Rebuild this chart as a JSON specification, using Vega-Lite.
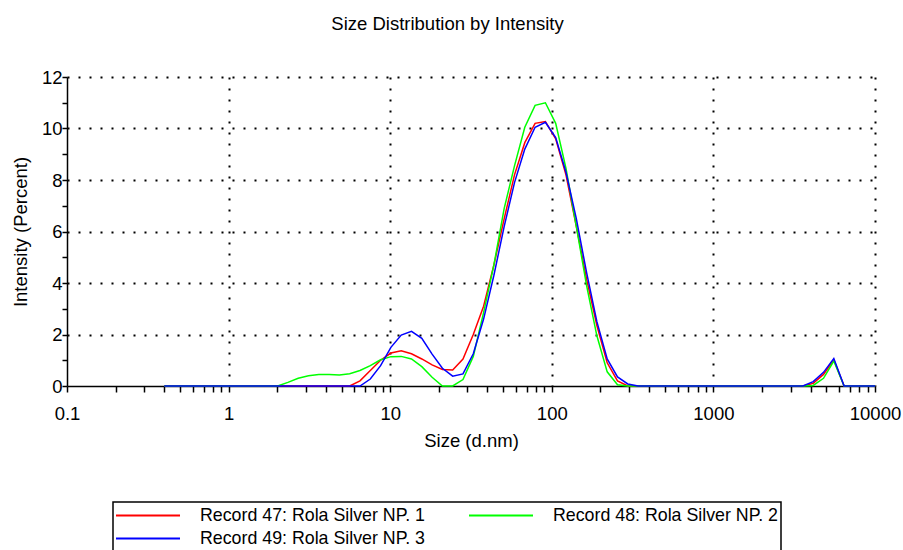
{
  "$schema": "https://vega.github.io/schema/vega-lite/v6.json",
  "autosize": {"type": "none"},
  "padding": {"left": 67, "top": 77, "right": 28, "bottom": 164},
  "width": 808,
  "height": 309,
  "background": "white",
  "title": {
    "text": "Size Distribution by Intensity",
    "anchor": "middle",
    "dx": -23.5,
    "offset": 20,
    "baseline": "alphabetic",
    "font": "Liberation Sans",
    "fontSize": 18.5,
    "fontWeight": "normal",
    "color": "black"
  },
  "data": {
    "values": [
      {"size": 0.4, "record": "Record 47: Rola Silver NP. 1", "intensity": 0},
      {"size": 0.4632, "record": "Record 47: Rola Silver NP. 1", "intensity": 0},
      {"size": 0.5365, "record": "Record 47: Rola Silver NP. 1", "intensity": 0},
      {"size": 0.6213, "record": "Record 47: Rola Silver NP. 1", "intensity": 0},
      {"size": 0.7195, "record": "Record 47: Rola Silver NP. 1", "intensity": 0},
      {"size": 0.8332, "record": "Record 47: Rola Silver NP. 1", "intensity": 0},
      {"size": 0.9649, "record": "Record 47: Rola Silver NP. 1", "intensity": 0},
      {"size": 1.117, "record": "Record 47: Rola Silver NP. 1", "intensity": 0},
      {"size": 1.294, "record": "Record 47: Rola Silver NP. 1", "intensity": 0},
      {"size": 1.499, "record": "Record 47: Rola Silver NP. 1", "intensity": 0},
      {"size": 1.736, "record": "Record 47: Rola Silver NP. 1", "intensity": 0},
      {"size": 2.01, "record": "Record 47: Rola Silver NP. 1", "intensity": 0},
      {"size": 2.328, "record": "Record 47: Rola Silver NP. 1", "intensity": 0},
      {"size": 2.696, "record": "Record 47: Rola Silver NP. 1", "intensity": 0},
      {"size": 3.122, "record": "Record 47: Rola Silver NP. 1", "intensity": 0},
      {"size": 3.615, "record": "Record 47: Rola Silver NP. 1", "intensity": 0},
      {"size": 4.187, "record": "Record 47: Rola Silver NP. 1", "intensity": 0},
      {"size": 4.849, "record": "Record 47: Rola Silver NP. 1", "intensity": 0},
      {"size": 5.615, "record": "Record 47: Rola Silver NP. 1", "intensity": 0},
      {"size": 6.503, "record": "Record 47: Rola Silver NP. 1", "intensity": 0.2},
      {"size": 7.531, "record": "Record 47: Rola Silver NP. 1", "intensity": 0.6},
      {"size": 8.721, "record": "Record 47: Rola Silver NP. 1", "intensity": 1.0},
      {"size": 10.1, "record": "Record 47: Rola Silver NP. 1", "intensity": 1.28},
      {"size": 11.7, "record": "Record 47: Rola Silver NP. 1", "intensity": 1.37},
      {"size": 13.54, "record": "Record 47: Rola Silver NP. 1", "intensity": 1.25},
      {"size": 15.69, "record": "Record 47: Rola Silver NP. 1", "intensity": 1.05},
      {"size": 18.17, "record": "Record 47: Rola Silver NP. 1", "intensity": 0.82},
      {"size": 21.04, "record": "Record 47: Rola Silver NP. 1", "intensity": 0.64},
      {"size": 24.36, "record": "Record 47: Rola Silver NP. 1", "intensity": 0.62},
      {"size": 28.21, "record": "Record 47: Rola Silver NP. 1", "intensity": 1.05},
      {"size": 32.67, "record": "Record 47: Rola Silver NP. 1", "intensity": 2.0},
      {"size": 37.84, "record": "Record 47: Rola Silver NP. 1", "intensity": 3.1},
      {"size": 43.82, "record": "Record 47: Rola Silver NP. 1", "intensity": 4.7},
      {"size": 50.75, "record": "Record 47: Rola Silver NP. 1", "intensity": 6.5},
      {"size": 58.77, "record": "Record 47: Rola Silver NP. 1", "intensity": 8.2},
      {"size": 68.06, "record": "Record 47: Rola Silver NP. 1", "intensity": 9.45},
      {"size": 78.82, "record": "Record 47: Rola Silver NP. 1", "intensity": 10.2},
      {"size": 91.28, "record": "Record 47: Rola Silver NP. 1", "intensity": 10.27},
      {"size": 105.7, "record": "Record 47: Rola Silver NP. 1", "intensity": 9.6},
      {"size": 122.4, "record": "Record 47: Rola Silver NP. 1", "intensity": 8.2},
      {"size": 141.8, "record": "Record 47: Rola Silver NP. 1", "intensity": 6.2},
      {"size": 164.2, "record": "Record 47: Rola Silver NP. 1", "intensity": 4.15},
      {"size": 190.1, "record": "Record 47: Rola Silver NP. 1", "intensity": 2.35},
      {"size": 220.2, "record": "Record 47: Rola Silver NP. 1", "intensity": 0.9},
      {"size": 255.0, "record": "Record 47: Rola Silver NP. 1", "intensity": 0.2},
      {"size": 295.3, "record": "Record 47: Rola Silver NP. 1", "intensity": 0},
      {"size": 342.0, "record": "Record 47: Rola Silver NP. 1", "intensity": 0},
      {"size": 396.1, "record": "Record 47: Rola Silver NP. 1", "intensity": 0},
      {"size": 458.7, "record": "Record 47: Rola Silver NP. 1", "intensity": 0},
      {"size": 531.2, "record": "Record 47: Rola Silver NP. 1", "intensity": 0},
      {"size": 615.1, "record": "Record 47: Rola Silver NP. 1", "intensity": 0},
      {"size": 712.4, "record": "Record 47: Rola Silver NP. 1", "intensity": 0},
      {"size": 825.0, "record": "Record 47: Rola Silver NP. 1", "intensity": 0},
      {"size": 955.4, "record": "Record 47: Rola Silver NP. 1", "intensity": 0},
      {"size": 1106, "record": "Record 47: Rola Silver NP. 1", "intensity": 0},
      {"size": 1281, "record": "Record 47: Rola Silver NP. 1", "intensity": 0},
      {"size": 1484, "record": "Record 47: Rola Silver NP. 1", "intensity": 0},
      {"size": 1718, "record": "Record 47: Rola Silver NP. 1", "intensity": 0},
      {"size": 1990, "record": "Record 47: Rola Silver NP. 1", "intensity": 0},
      {"size": 2305, "record": "Record 47: Rola Silver NP. 1", "intensity": 0},
      {"size": 2669, "record": "Record 47: Rola Silver NP. 1", "intensity": 0},
      {"size": 3091, "record": "Record 47: Rola Silver NP. 1", "intensity": 0},
      {"size": 3580, "record": "Record 47: Rola Silver NP. 1", "intensity": 0},
      {"size": 4145, "record": "Record 47: Rola Silver NP. 1", "intensity": 0.1},
      {"size": 4801, "record": "Record 47: Rola Silver NP. 1", "intensity": 0.45},
      {"size": 5560, "record": "Record 47: Rola Silver NP. 1", "intensity": 1.02},
      {"size": 6439, "record": "Record 47: Rola Silver NP. 1", "intensity": 0},
      {"size": 7456, "record": "Record 47: Rola Silver NP. 1", "intensity": 0},
      {"size": 8635, "record": "Record 47: Rola Silver NP. 1", "intensity": 0},
      {"size": 10000, "record": "Record 47: Rola Silver NP. 1", "intensity": 0},

      {"size": 0.4, "record": "Record 48: Rola Silver NP. 2", "intensity": 0},
      {"size": 0.4632, "record": "Record 48: Rola Silver NP. 2", "intensity": 0},
      {"size": 0.5365, "record": "Record 48: Rola Silver NP. 2", "intensity": 0},
      {"size": 0.6213, "record": "Record 48: Rola Silver NP. 2", "intensity": 0},
      {"size": 0.7195, "record": "Record 48: Rola Silver NP. 2", "intensity": 0},
      {"size": 0.8332, "record": "Record 48: Rola Silver NP. 2", "intensity": 0},
      {"size": 0.9649, "record": "Record 48: Rola Silver NP. 2", "intensity": 0},
      {"size": 1.117, "record": "Record 48: Rola Silver NP. 2", "intensity": 0},
      {"size": 1.294, "record": "Record 48: Rola Silver NP. 2", "intensity": 0},
      {"size": 1.499, "record": "Record 48: Rola Silver NP. 2", "intensity": 0},
      {"size": 1.736, "record": "Record 48: Rola Silver NP. 2", "intensity": 0},
      {"size": 2.01, "record": "Record 48: Rola Silver NP. 2", "intensity": 0},
      {"size": 2.328, "record": "Record 48: Rola Silver NP. 2", "intensity": 0.14},
      {"size": 2.696, "record": "Record 48: Rola Silver NP. 2", "intensity": 0.3},
      {"size": 3.122, "record": "Record 48: Rola Silver NP. 2", "intensity": 0.4},
      {"size": 3.615, "record": "Record 48: Rola Silver NP. 2", "intensity": 0.45},
      {"size": 4.187, "record": "Record 48: Rola Silver NP. 2", "intensity": 0.45},
      {"size": 4.849, "record": "Record 48: Rola Silver NP. 2", "intensity": 0.43},
      {"size": 5.615, "record": "Record 48: Rola Silver NP. 2", "intensity": 0.48},
      {"size": 6.503, "record": "Record 48: Rola Silver NP. 2", "intensity": 0.6},
      {"size": 7.531, "record": "Record 48: Rola Silver NP. 2", "intensity": 0.79},
      {"size": 8.721, "record": "Record 48: Rola Silver NP. 2", "intensity": 1.02},
      {"size": 10.1, "record": "Record 48: Rola Silver NP. 2", "intensity": 1.14},
      {"size": 11.7, "record": "Record 48: Rola Silver NP. 2", "intensity": 1.15},
      {"size": 13.54, "record": "Record 48: Rola Silver NP. 2", "intensity": 1.05},
      {"size": 15.69, "record": "Record 48: Rola Silver NP. 2", "intensity": 0.75},
      {"size": 18.17, "record": "Record 48: Rola Silver NP. 2", "intensity": 0.34},
      {"size": 21.04, "record": "Record 48: Rola Silver NP. 2", "intensity": 0},
      {"size": 24.36, "record": "Record 48: Rola Silver NP. 2", "intensity": 0},
      {"size": 28.21, "record": "Record 48: Rola Silver NP. 2", "intensity": 0.25},
      {"size": 32.67, "record": "Record 48: Rola Silver NP. 2", "intensity": 1.15},
      {"size": 37.84, "record": "Record 48: Rola Silver NP. 2", "intensity": 2.85},
      {"size": 43.82, "record": "Record 48: Rola Silver NP. 2", "intensity": 4.7},
      {"size": 50.75, "record": "Record 48: Rola Silver NP. 2", "intensity": 6.9},
      {"size": 58.77, "record": "Record 48: Rola Silver NP. 2", "intensity": 8.55},
      {"size": 68.06, "record": "Record 48: Rola Silver NP. 2", "intensity": 10.05},
      {"size": 78.82, "record": "Record 48: Rola Silver NP. 2", "intensity": 10.9},
      {"size": 91.28, "record": "Record 48: Rola Silver NP. 2", "intensity": 11.0},
      {"size": 105.7, "record": "Record 48: Rola Silver NP. 2", "intensity": 10.2},
      {"size": 122.4, "record": "Record 48: Rola Silver NP. 2", "intensity": 8.45},
      {"size": 141.8, "record": "Record 48: Rola Silver NP. 2", "intensity": 6.2},
      {"size": 164.2, "record": "Record 48: Rola Silver NP. 2", "intensity": 3.9},
      {"size": 190.1, "record": "Record 48: Rola Silver NP. 2", "intensity": 1.95},
      {"size": 220.2, "record": "Record 48: Rola Silver NP. 2", "intensity": 0.55},
      {"size": 255.0, "record": "Record 48: Rola Silver NP. 2", "intensity": 0.05},
      {"size": 295.3, "record": "Record 48: Rola Silver NP. 2", "intensity": 0},
      {"size": 342.0, "record": "Record 48: Rola Silver NP. 2", "intensity": 0},
      {"size": 396.1, "record": "Record 48: Rola Silver NP. 2", "intensity": 0},
      {"size": 458.7, "record": "Record 48: Rola Silver NP. 2", "intensity": 0},
      {"size": 531.2, "record": "Record 48: Rola Silver NP. 2", "intensity": 0},
      {"size": 615.1, "record": "Record 48: Rola Silver NP. 2", "intensity": 0},
      {"size": 712.4, "record": "Record 48: Rola Silver NP. 2", "intensity": 0},
      {"size": 825.0, "record": "Record 48: Rola Silver NP. 2", "intensity": 0},
      {"size": 955.4, "record": "Record 48: Rola Silver NP. 2", "intensity": 0},
      {"size": 1106, "record": "Record 48: Rola Silver NP. 2", "intensity": 0},
      {"size": 1281, "record": "Record 48: Rola Silver NP. 2", "intensity": 0},
      {"size": 1484, "record": "Record 48: Rola Silver NP. 2", "intensity": 0},
      {"size": 1718, "record": "Record 48: Rola Silver NP. 2", "intensity": 0},
      {"size": 1990, "record": "Record 48: Rola Silver NP. 2", "intensity": 0},
      {"size": 2305, "record": "Record 48: Rola Silver NP. 2", "intensity": 0},
      {"size": 2669, "record": "Record 48: Rola Silver NP. 2", "intensity": 0},
      {"size": 3091, "record": "Record 48: Rola Silver NP. 2", "intensity": 0},
      {"size": 3580, "record": "Record 48: Rola Silver NP. 2", "intensity": 0},
      {"size": 4145, "record": "Record 48: Rola Silver NP. 2", "intensity": 0.02},
      {"size": 4801, "record": "Record 48: Rola Silver NP. 2", "intensity": 0.3},
      {"size": 5560, "record": "Record 48: Rola Silver NP. 2", "intensity": 0.97},
      {"size": 6439, "record": "Record 48: Rola Silver NP. 2", "intensity": 0},
      {"size": 7456, "record": "Record 48: Rola Silver NP. 2", "intensity": 0},
      {"size": 8635, "record": "Record 48: Rola Silver NP. 2", "intensity": 0},
      {"size": 10000, "record": "Record 48: Rola Silver NP. 2", "intensity": 0},

      {"size": 0.4, "record": "Record 49: Rola Silver NP. 3", "intensity": 0},
      {"size": 0.4632, "record": "Record 49: Rola Silver NP. 3", "intensity": 0},
      {"size": 0.5365, "record": "Record 49: Rola Silver NP. 3", "intensity": 0},
      {"size": 0.6213, "record": "Record 49: Rola Silver NP. 3", "intensity": 0},
      {"size": 0.7195, "record": "Record 49: Rola Silver NP. 3", "intensity": 0},
      {"size": 0.8332, "record": "Record 49: Rola Silver NP. 3", "intensity": 0},
      {"size": 0.9649, "record": "Record 49: Rola Silver NP. 3", "intensity": 0},
      {"size": 1.117, "record": "Record 49: Rola Silver NP. 3", "intensity": 0},
      {"size": 1.294, "record": "Record 49: Rola Silver NP. 3", "intensity": 0},
      {"size": 1.499, "record": "Record 49: Rola Silver NP. 3", "intensity": 0},
      {"size": 1.736, "record": "Record 49: Rola Silver NP. 3", "intensity": 0},
      {"size": 2.01, "record": "Record 49: Rola Silver NP. 3", "intensity": 0},
      {"size": 2.328, "record": "Record 49: Rola Silver NP. 3", "intensity": 0},
      {"size": 2.696, "record": "Record 49: Rola Silver NP. 3", "intensity": 0},
      {"size": 3.122, "record": "Record 49: Rola Silver NP. 3", "intensity": 0},
      {"size": 3.615, "record": "Record 49: Rola Silver NP. 3", "intensity": 0},
      {"size": 4.187, "record": "Record 49: Rola Silver NP. 3", "intensity": 0},
      {"size": 4.849, "record": "Record 49: Rola Silver NP. 3", "intensity": 0},
      {"size": 5.615, "record": "Record 49: Rola Silver NP. 3", "intensity": 0},
      {"size": 6.503, "record": "Record 49: Rola Silver NP. 3", "intensity": 0},
      {"size": 7.531, "record": "Record 49: Rola Silver NP. 3", "intensity": 0.27},
      {"size": 8.721, "record": "Record 49: Rola Silver NP. 3", "intensity": 0.79},
      {"size": 10.1, "record": "Record 49: Rola Silver NP. 3", "intensity": 1.5},
      {"size": 11.7, "record": "Record 49: Rola Silver NP. 3", "intensity": 1.98},
      {"size": 13.54, "record": "Record 49: Rola Silver NP. 3", "intensity": 2.12},
      {"size": 15.69, "record": "Record 49: Rola Silver NP. 3", "intensity": 1.85},
      {"size": 18.17, "record": "Record 49: Rola Silver NP. 3", "intensity": 1.24},
      {"size": 21.04, "record": "Record 49: Rola Silver NP. 3", "intensity": 0.69},
      {"size": 24.36, "record": "Record 49: Rola Silver NP. 3", "intensity": 0.38},
      {"size": 28.21, "record": "Record 49: Rola Silver NP. 3", "intensity": 0.47},
      {"size": 32.67, "record": "Record 49: Rola Silver NP. 3", "intensity": 1.25},
      {"size": 37.84, "record": "Record 49: Rola Silver NP. 3", "intensity": 2.6},
      {"size": 43.82, "record": "Record 49: Rola Silver NP. 3", "intensity": 4.3},
      {"size": 50.75, "record": "Record 49: Rola Silver NP. 3", "intensity": 6.2},
      {"size": 58.77, "record": "Record 49: Rola Silver NP. 3", "intensity": 7.9},
      {"size": 68.06, "record": "Record 49: Rola Silver NP. 3", "intensity": 9.2},
      {"size": 78.82, "record": "Record 49: Rola Silver NP. 3", "intensity": 10.05},
      {"size": 91.28, "record": "Record 49: Rola Silver NP. 3", "intensity": 10.24},
      {"size": 105.7, "record": "Record 49: Rola Silver NP. 3", "intensity": 9.65},
      {"size": 122.4, "record": "Record 49: Rola Silver NP. 3", "intensity": 8.3},
      {"size": 141.8, "record": "Record 49: Rola Silver NP. 3", "intensity": 6.5},
      {"size": 164.2, "record": "Record 49: Rola Silver NP. 3", "intensity": 4.4},
      {"size": 190.1, "record": "Record 49: Rola Silver NP. 3", "intensity": 2.5},
      {"size": 220.2, "record": "Record 49: Rola Silver NP. 3", "intensity": 1.05},
      {"size": 255.0, "record": "Record 49: Rola Silver NP. 3", "intensity": 0.35},
      {"size": 295.3, "record": "Record 49: Rola Silver NP. 3", "intensity": 0.08},
      {"size": 342.0, "record": "Record 49: Rola Silver NP. 3", "intensity": 0},
      {"size": 396.1, "record": "Record 49: Rola Silver NP. 3", "intensity": 0},
      {"size": 458.7, "record": "Record 49: Rola Silver NP. 3", "intensity": 0},
      {"size": 531.2, "record": "Record 49: Rola Silver NP. 3", "intensity": 0},
      {"size": 615.1, "record": "Record 49: Rola Silver NP. 3", "intensity": 0},
      {"size": 712.4, "record": "Record 49: Rola Silver NP. 3", "intensity": 0},
      {"size": 825.0, "record": "Record 49: Rola Silver NP. 3", "intensity": 0},
      {"size": 955.4, "record": "Record 49: Rola Silver NP. 3", "intensity": 0},
      {"size": 1106, "record": "Record 49: Rola Silver NP. 3", "intensity": 0},
      {"size": 1281, "record": "Record 49: Rola Silver NP. 3", "intensity": 0},
      {"size": 1484, "record": "Record 49: Rola Silver NP. 3", "intensity": 0},
      {"size": 1718, "record": "Record 49: Rola Silver NP. 3", "intensity": 0},
      {"size": 1990, "record": "Record 49: Rola Silver NP. 3", "intensity": 0},
      {"size": 2305, "record": "Record 49: Rola Silver NP. 3", "intensity": 0},
      {"size": 2669, "record": "Record 49: Rola Silver NP. 3", "intensity": 0},
      {"size": 3091, "record": "Record 49: Rola Silver NP. 3", "intensity": 0},
      {"size": 3580, "record": "Record 49: Rola Silver NP. 3", "intensity": 0},
      {"size": 4145, "record": "Record 49: Rola Silver NP. 3", "intensity": 0.17},
      {"size": 4801, "record": "Record 49: Rola Silver NP. 3", "intensity": 0.53},
      {"size": 5560, "record": "Record 49: Rola Silver NP. 3", "intensity": 1.07},
      {"size": 6439, "record": "Record 49: Rola Silver NP. 3", "intensity": 0},
      {"size": 7456, "record": "Record 49: Rola Silver NP. 3", "intensity": 0},
      {"size": 8635, "record": "Record 49: Rola Silver NP. 3", "intensity": 0},
      {"size": 10000, "record": "Record 49: Rola Silver NP. 3", "intensity": 0}
    ]
  },
  "mark": {"type": "line", "strokeWidth": 1.5, "interpolate": "linear"},
  "encoding": {
    "x": {
      "field": "size",
      "type": "quantitative",
      "scale": {"type": "log", "domain": [0.1, 10000], "nice": false},
      "axis": {
        "title": "Size (d.nm)",
        "values": [0.1, 0.2, 0.3, 0.4, 0.5, 0.6, 0.7, 0.8, 0.9, 1, 2, 3, 4, 5, 6, 7, 8, 9, 10, 20, 30, 40, 50, 60, 70, 80, 90, 100, 200, 300, 400, 500, 600, 700, 800, 900, 1000, 2000, 3000, 4000, 5000, 6000, 7000, 8000, 9000, 10000],
        "labelExpr": "abs(log(datum.value)/LN10 - round(log(datum.value)/LN10)) < 0.000001 ? format(datum.value, '~g') : ''",
        "labelOverlap": false,
        "labelFlush": false,
        "labelBound": false,
        "tickSize": 6,
        "labelPadding": 12,
        "titlePadding": 9,
        "gridOpacity": {
          "condition": {"test": "abs(log(datum.value)/LN10 - round(log(datum.value)/LN10)) < 0.000001 && datum.value > 0.1", "value": 1},
          "value": 0
        }
      }
    },
    "y": {
      "field": "intensity",
      "type": "quantitative",
      "scale": {"domain": [0, 12], "nice": false},
      "axis": {
        "title": "Intensity (Percent)",
        "values": [0, 1, 2, 3, 4, 5, 6, 7, 8, 9, 10, 11, 12],
        "labelExpr": "datum.value % 2 == 0 ? datum.label : ''",
        "labelOverlap": false,
        "labelFlush": false,
        "tickSize": 5,
        "labelPadding": 0,
        "titlePadding": 11,
        "gridOpacity": {
          "condition": {"test": "datum.value % 2 == 0 && datum.value > 0", "value": 1},
          "value": 0
        }
      }
    },
    "color": {
      "field": "record",
      "type": "nominal",
      "scale": {
        "domain": ["Record 47: Rola Silver NP. 1", "Record 48: Rola Silver NP. 2", "Record 49: Rola Silver NP. 3"],
        "range": ["#ff0000", "#00ff00", "#0000ff"]
      },
      "legend": {
        "title": null,
        "orient": "none",
        "direction": "horizontal",
        "legendX": 46,
        "legendY": 425,
        "columns": 2,
        "columnPadding": 42,
        "rowPadding": -1,
        "clipHeight": 23,
        "padding": 2,
        "symbolType": "stroke",
        "symbolSize": 4096,
        "symbolStrokeWidth": 2,
        "symbolOffset": 0,
        "labelOffset": 19,
        "labelLimit": 0,
        "labelFont": "Liberation Sans",
        "labelFontSize": 17.8,
        "labelColor": "black",
        "labelBaseline": "middle",
        "strokeColor": "black"
      }
    }
  },
  "config": {
    "font": "Liberation Sans",
    "view": {"stroke": null},
    "axis": {
      "labelFont": "Liberation Sans",
      "labelFontSize": 18.5,
      "labelColor": "black",
      "titleFont": "Liberation Sans",
      "titleFontSize": 18.5,
      "titleFontWeight": "normal",
      "titleColor": "black",
      "domainColor": "black",
      "domainWidth": 1.5,
      "tickColor": "black",
      "tickWidth": 1.5,
      "grid": true,
      "gridColor": "black",
      "gridWidth": 2,
      "gridDash": [2, 9]
    },
    "legend": {"strokeWidth": 1.5}
  }
}
